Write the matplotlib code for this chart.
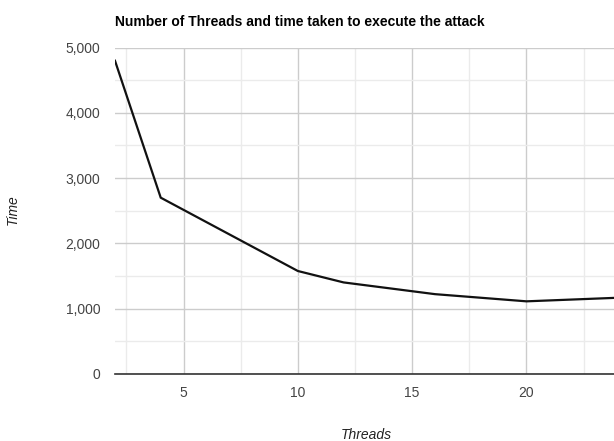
import matplotlib.pyplot as plt
from matplotlib.ticker import MultipleLocator, FuncFormatter

# data
threads = [2, 4, 10, 12, 16, 20, 24]
time_taken = [4800, 2700, 1575, 1400, 1220, 1110, 1165]

W, H = 614, 441
fig = plt.figure(figsize=(W / 100, H / 100), dpi=100)
plt.rcParams['font.family'] = ['Liberation Sans', 'DejaVu Sans']

# plot area in pixels: left 115, top 47.7, bottom 373.7, right 614
ax = fig.add_axes([115 / W, 1 - 373.7 / H, (W - 115) / W, (373.7 - 47.7) / H])

ax.plot(threads, time_taken, color="#111111", linewidth=1.6, solid_joinstyle="miter", zorder=3)

ax.set_xlim(2, 23.83)
ax.set_ylim(0, 5000)

ax.xaxis.set_major_locator(MultipleLocator(5))
ax.xaxis.set_minor_locator(MultipleLocator(2.5))
ax.yaxis.set_major_locator(MultipleLocator(1000))
ax.yaxis.set_minor_locator(MultipleLocator(500))
ax.yaxis.set_major_formatter(FuncFormatter(lambda v, p: "{:,.0f}".format(v)))

ax.grid(which="major", color="#cccccc", linewidth=1)
ax.grid(which="minor", color="#ebebeb", linewidth=1)
ax.set_axisbelow(True)

for s in ["top", "right", "left"]:
    ax.spines[s].set_visible(False)
ax.spines["bottom"].set_color("#333333")
ax.spines["bottom"].set_linewidth(1.2)
ax.spines["bottom"].set_zorder(4)

ax.tick_params(which="both", length=0, labelsize=10, colors="#444444")
ax.tick_params(axis="x", pad=9)
ax.tick_params(axis="y", pad=10.5)
ax.set_xticks([5, 10, 15, 20])

fig.text(115 / W, 1 - 21.5 / H, "Number of Threads and time taken to execute the attack",
         fontsize=10, fontweight="bold", color="#000000", va="center", ha="left")
fig.text(12.5 / W, 1 - 210 / H, "Time", fontsize=10, style="italic", color="#222222",
         rotation=90, va="center", ha="center")
fig.text(366 / W, 1 - 435 / H, "Threads", fontsize=10, style="italic", color="#222222",
         va="center", ha="center")

plt.savefig("out.png", dpi=100)
